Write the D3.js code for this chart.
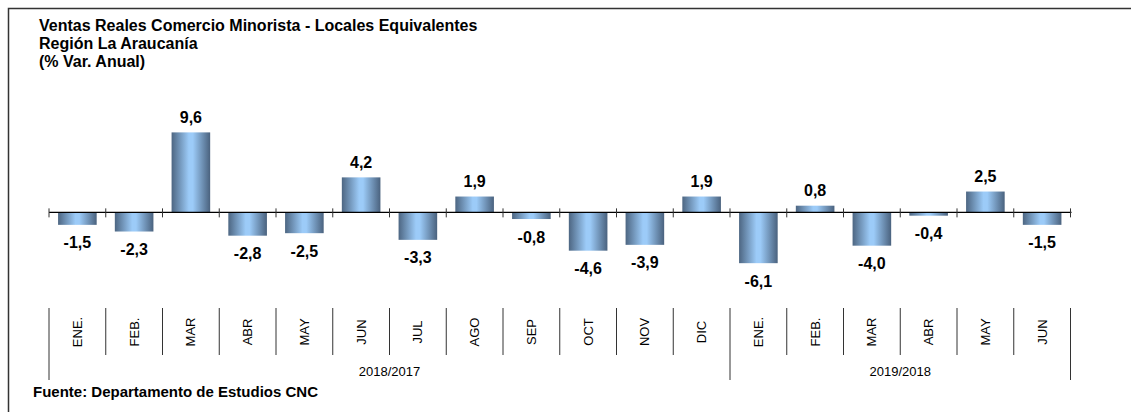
<!DOCTYPE html>
<meta charset="utf-8">
<style>
body { margin: 0; background: #fff; font-family: "Liberation Sans", Arial, sans-serif; }
.lbl { font-size: 16px; font-weight: bold; fill: #000; }
.mes { font-size: 13px; fill: #000; }
</style>
<body></body>
<script src="https://cdnjs.cloudflare.com/ajax/libs/d3/7.8.5/d3.min.js"></script>
<script>
// datos
var meses = ["ENE.", "FEB.", "MAR", "ABR", "MAY", "JUN", "JUL", "AGO", "SEP", "OCT", "NOV", "DIC",
             "ENE.", "FEB.", "MAR", "ABR", "MAY", "JUN"];
var valores = [-1.5, -2.3, 9.6, -2.8, -2.5, 4.2, -3.3, 1.9, -0.8, -4.6, -3.9, 1.9,
               -6.1, 0.8, -4.0, -0.4, 2.5, -1.5];
var periodos = ["2018/2017", "2019/2018"];
var mesesPorPeriodo = [12, 6];
var titulo = ["Ventas Reales Comercio Minorista - Locales Equivalentes", "Región La Araucanía", "(% Var. Anual)"];
var fuente = "Fuente: Departamento de Estudios CNC";

var W = 1131, H = 412;
var x0 = 49, x1 = 1070.5;

var svg = d3.select("body").append("svg").attr("width", W).attr("height", H);

// marco
svg.append("rect").attr("x", 8.5).attr("y", 8.5).attr("width", W).attr("height", H)
  .attr("fill", "none").attr("stroke", "#333").attr("stroke-width", 1.5);

var defs = svg.append("defs");
var grad = defs.append("linearGradient").attr("id", "gb").attr("x1", "0").attr("x2", "1").attr("y1", "0").attr("y2", "0");
grad.append("stop").attr("offset", "0%").attr("stop-color", "#4d6682");
grad.append("stop").attr("offset", "45%").attr("stop-color", "#9ccbf8");
grad.append("stop").attr("offset", "55%").attr("stop-color", "#9ccbf8");
grad.append("stop").attr("offset", "100%").attr("stop-color", "#4a627e");

var idx = d3.range(meses.length);
var xScale = d3.scaleBand().domain(idx).range([x0, x1]).paddingInner(0.32).paddingOuter(0.16);
var step = xScale.step();
var yScale = d3.scaleLinear().domain([-8, 12]).range([279, 112.4]);
var y0 = yScale(0);

// barras
svg.selectAll(".bar").data(idx).enter().append("rect")
  .attr("x", function(i) { return xScale(i); })
  .attr("width", xScale.bandwidth())
  .attr("y", function(i) { return yScale(Math.max(0, valores[i])); })
  .attr("height", function(i) { return Math.abs(yScale(valores[i]) - y0); })
  .attr("fill", "url(#gb)");

// eje
svg.append("line").attr("x1", x0).attr("x2", x1 + 1).attr("y1", y0).attr("y2", y0)
  .attr("stroke", "#000").attr("stroke-width", 1.3);
svg.selectAll(".tk").data(d3.range(meses.length + 1)).enter().append("line")
  .attr("x1", function(i) { return x0 + i * step; })
  .attr("x2", function(i) { return x0 + i * step; })
  .attr("y1", y0 - 4).attr("y2", y0 + 5)
  .attr("stroke", "#333");

// etiquetas
var fmt = function(v) { return d3.format(".1f")(v).replace(".", ",").replace("−", "-"); };
svg.selectAll(".lbl").data(idx).enter().append("text")
  .attr("class", "lbl")
  .attr("text-anchor", "middle")
  .attr("x", function(i) { return xScale(i) + xScale.bandwidth() / 2; })
  .attr("y", function(i) {
    var v = valores[i];
    return v >= 0 ? yScale(v) - 9.5 : yScale(v) + 23.5;
  })
  .text(function(i) { return fmt(valores[i]); });

// meses
svg.selectAll(".mes").data(idx).enter().append("text")
  .attr("class", "mes")
  .attr("text-anchor", "middle")
  .attr("dominant-baseline", "central")
  .attr("transform", function(i) { return "translate(" + (xScale(i) + xScale.bandwidth() / 2) + ",332) rotate(-90)"; })
  .text(function(i) { return meses[i]; });

// separadores
var grupos = [0];
mesesPorPeriodo.forEach(function(n, k) { grupos.push(grupos[k] + n); });
svg.selectAll(".sep").data(d3.range(meses.length + 1)).enter().append("line")
  .attr("x1", function(i) { return x0 + i * step; })
  .attr("x2", function(i) { return x0 + i * step; })
  .attr("y1", 308)
  .attr("y2", function(i) { return grupos.indexOf(i) >= 0 ? 380 : 355; })
  .attr("stroke", "#333");

svg.selectAll(".per").data(periodos).enter().append("text")
  .attr("class", "mes")
  .attr("text-anchor", "middle")
  .attr("x", function(d, k) { return x0 + (grupos[k] + grupos[k + 1]) / 2 * step; })
  .attr("y", 376)
  .text(function(d) { return d; });

// titulo
svg.selectAll(".tit").data(titulo).enter().append("text")
  .attr("x", 39).attr("y", function(d, k) { return 31 + k * 18; })
  .style("font-size", "16px").style("font-weight", "bold")
  .text(function(d) { return d; });

svg.append("text").attr("x", 33).attr("y", 397)
  .style("font-size", "15px").style("font-weight", "bold")
  .text(fuente);
</script>
